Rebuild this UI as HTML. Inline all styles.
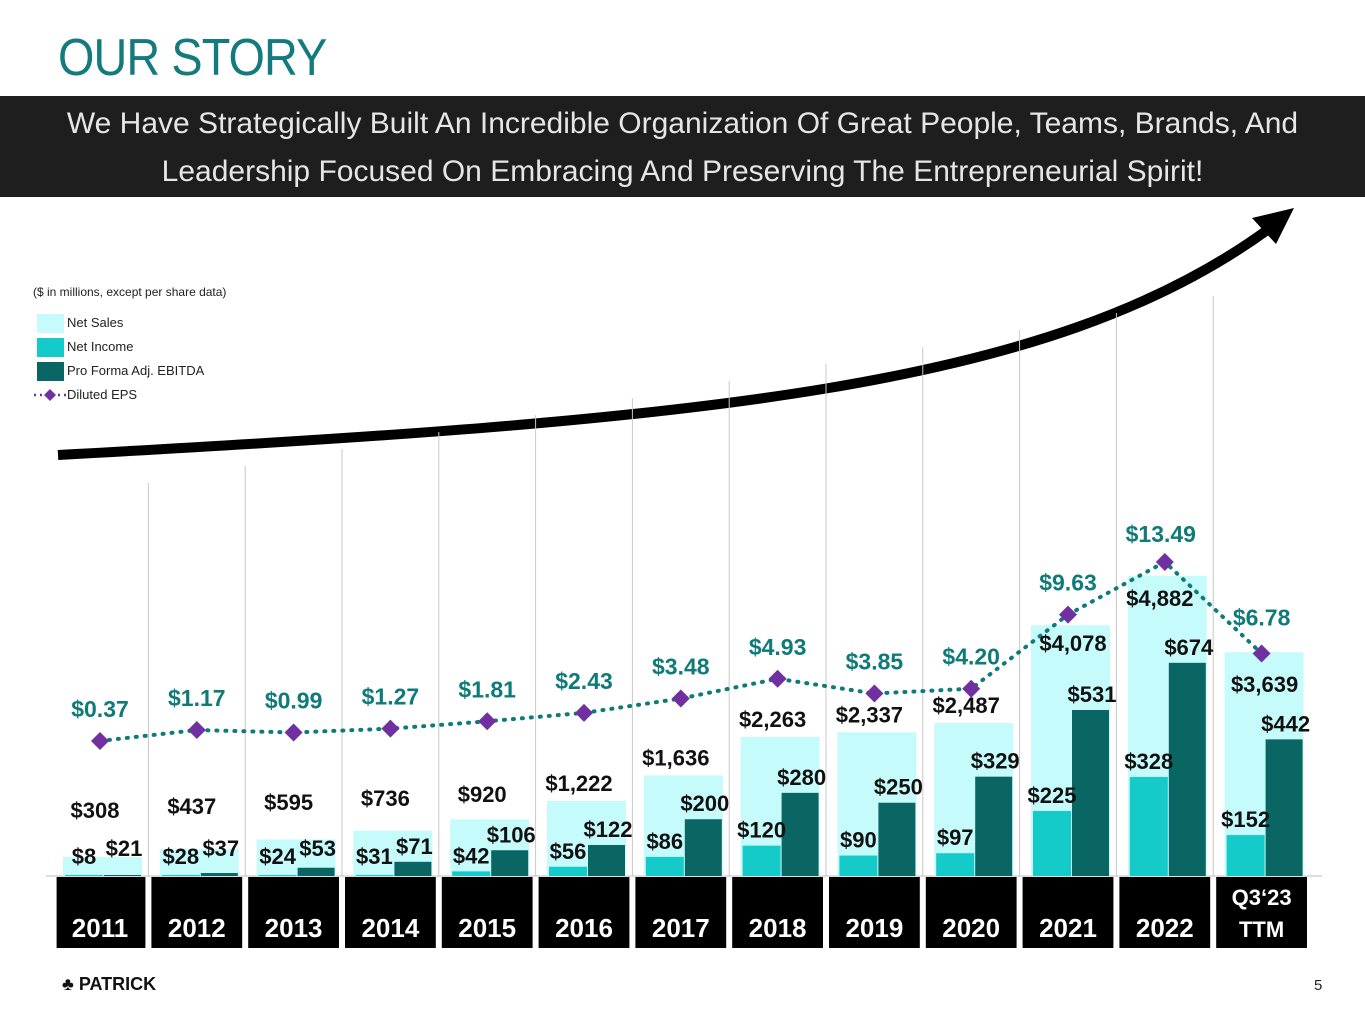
<!DOCTYPE html>
<html><head><meta charset="utf-8"><style>
body{margin:0;width:1365px;height:1024px;background:#fff;font-family:"Liberation Sans",sans-serif;overflow:hidden;position:relative}
#title{position:absolute;left:58px;top:28px;font-size:52px;color:#137b7d;letter-spacing:-1px;font-weight:normal;transform:scaleX(0.9);transform-origin:left}
#band{position:absolute;left:0;top:96px;width:1365px;height:101px;background:#1e1e1e;color:#e6e6e6;font-size:30px;text-align:center;line-height:48px;padding-top:4px;box-sizing:border-box}
svg{position:absolute;left:0;top:0}
</style></head><body>
<div id="title">OUR STORY</div>
<div id="band">We Have Strategically Built An Incredible Organization Of Great People, Teams, Brands, And<br>Leadership Focused On Embracing And Preserving The Entrepreneurial Spirit!</div>
<svg id="chart" width="1365" height="1024"></svg>
<script>
const categories=["2011","2012","2013","2014","2015","2016","2017","2018","2019","2020","2021","2022","Q3‘23|TTM"];
const netSales=[308,437,595,736,920,1222,1636,2263,2337,2487,4078,4882,3639];
const netIncome=[8,28,24,31,42,56,86,120,90,97,225,328,152];
const ebitda=[21,37,53,71,106,122,200,280,250,329,531,674,442];
const eps=[0.37,1.17,0.99,1.27,1.81,2.43,3.48,4.93,3.85,4.20,9.63,13.49,6.78];
const salesLabels=["$308","$437","$595","$736","$920","$1,222","$1,636","$2,263","$2,337","$2,487","$4,078","$4,882","$3,639"];
const niLabels=["$8","$28","$24","$31","$42","$56","$86","$120","$90","$97","$225","$328","$152"];
const ebLabels=["$21","$37","$53","$71","$106","$122","$200","$280","$250","$329","$531","$674","$442"];
const epsLabels=["$0.37","$1.17","$0.99","$1.27","$1.81","$2.43","$3.48","$4.93","$3.85","$4.20","$9.63","$13.49","$6.78"];

const NS="http://www.w3.org/2000/svg";
const svg=document.getElementById('chart');
const base=876, x0=51.6, W=96.8;
const cx=i=>x0+W*(i+0.5);
const ySales=v=>base-v*0.0615;
const yMoney=v=>base-Math.max(1,(v-28)*0.33);
const yEps=v=>746-v*13.64;
function mk(t,a,parent){const e=document.createElementNS(NS,t);for(const k in a)e.setAttribute(k,a[k]);(parent||svg).appendChild(e);return e;}

// arrow
const arrow=mk('path',{d:'M58,455 C700,420 1050,390 1270,228',stroke:'#000','stroke-width':10,fill:'none'});


const head=mk('polygon',{points:'1294,208 1252,218 1276,244',fill:'#000'});



// legend
const note=mk('text',{x:33,y:296,'font-size':12,fill:'#222'});note.textContent='($ in millions, except per share data)';


const leg=[['Net Sales','#c6fbfb'],['Net Income','#14cbc9'],['Pro Forma Adj. EBITDA','#0a6663']];
leg.forEach((l,i)=>{
 const g=mk('g',{});
 
 
 mk('rect',{x:37,y:314+i*24,width:27,height:19,fill:l[1]},g);
 const t=mk('text',{x:67,y:327+i*24,'font-size':13,fill:'#222'},g);t.textContent=l[0];
});
const ge=mk('g',{});


mk('line',{x1:34,y1:395,x2:66,y2:395,stroke:'#7030a0','stroke-width':2.5,'stroke-dasharray':'2 4'},ge);
mk('polygon',{points:'50,389 56,395 50,401 44,395',fill:'#7030a0'},ge);
const te=mk('text',{x:67,y:399,'font-size':13,fill:'#222'},ge);te.textContent='Diluted EPS';

// dividers
for(let i=1;i<categories.length;i++){
 const d=mk('line',{x1:x0+W*i,y1:500-Math.min(i,12)*17,x2:x0+W*i,y2:base,stroke:'#c8c8c8','stroke-width':1});
 
 
}
mk('line',{x1:46,y1:876,x2:1322,y2:876,stroke:'#bbb','stroke-width':1});

// bars
categories.forEach((c,i)=>{
 const x=cx(i);
 const s=mk('rect',{x:x-37,y:ySales(netSales[i]),width:79,height:base-ySales(netSales[i]),fill:'#c6fbfb'});
 
 
 const n=mk('rect',{x:x-35,y:yMoney(netIncome[i]),width:38,height:base-yMoney(netIncome[i]),fill:'#14cbc9'});
 
 
 const e=mk('rect',{x:x+4,y:yMoney(ebitda[i]),width:37,height:base-yMoney(ebitda[i]),fill:'#0a6663'});
 
 
});

// EPS line
const pts=eps.map((v,i)=>cx(i)+','+yEps(v)).join(' ');
const pl=mk('polyline',{points:pts,fill:'none',stroke:'#0e7a7a','stroke-width':4,'stroke-dasharray':'1 8','stroke-linecap':'round'});


eps.forEach((v,i)=>{
 const x=cx(i),y=yEps(v);
 const d=mk('polygon',{points:`${x},${y-9} ${x+9},${y} ${x},${y+9} ${x-9},${y}`,fill:'#7030a0'});
 
 
 const t=mk('text',{x:x+(i==11?-4:0),y:y-(i==12?28:i==11?20:24),'text-anchor':'middle','font-size':23,'font-weight':'bold',fill:'#0e7a7a'});
 t.textContent=epsLabels[i];
 
 
});

// value labels
categories.forEach((c,i)=>{
 const x=cx(i);
 let sy=Math.min(ySales(netSales[i])-10,818-i*4);
 if(i==10) sy=ySales(netSales[i])+26;
 if(i>=11) sy=ySales(netSales[i])+(i==11?30:40);
 const st=mk('text',{x:x-(i==12?-3:5)+(i==10?10:0),y:sy,'text-anchor':'middle','font-size':22,'font-weight':'bold',fill:'#111'});
 st.textContent=salesLabels[i];
 
 
 const ny=Math.min(yMoney(netIncome[i])-8,864);
 const nt=mk('text',{x:x-16,y:ny,'text-anchor':'middle','font-size':22,'font-weight':'bold',fill:'#111'});
 nt.textContent=niLabels[i];
 
 
 const ey=Math.min(yMoney(ebitda[i])-8,856);
 const et=mk('text',{x:x+24,y:ey,'text-anchor':'middle','font-size':22,'font-weight':'bold',fill:'#111'});
 et.textContent=ebLabels[i];
 
 
});

// year boxes
categories.forEach((c,i)=>{
 const x=x0+W*i;
 const r=mk('rect',{x:x+(i==0?5:3),y:877,width:W-(i==0?8:6),height:71,fill:'#000'});
 
 
 const parts=c.split('|');
 parts.forEach((p,k)=>{
  const t=mk('text',{x:x+W/2,y:parts.length>1?905+k*32:937,'text-anchor':'middle','font-size':parts.length>1?22:26,'font-weight':'bold',fill:'#fff'});
  t.textContent=p;
  
  
 });
});

// footer
const lg=mk('text',{x:62,y:990,'font-size':18,'font-weight':'bold',fill:'#111'});lg.textContent='♣ PATRICK';


const pn=mk('text',{x:1314,y:990,'font-size':15,fill:'#222'});pn.textContent='5';


</script>
</body></html>
